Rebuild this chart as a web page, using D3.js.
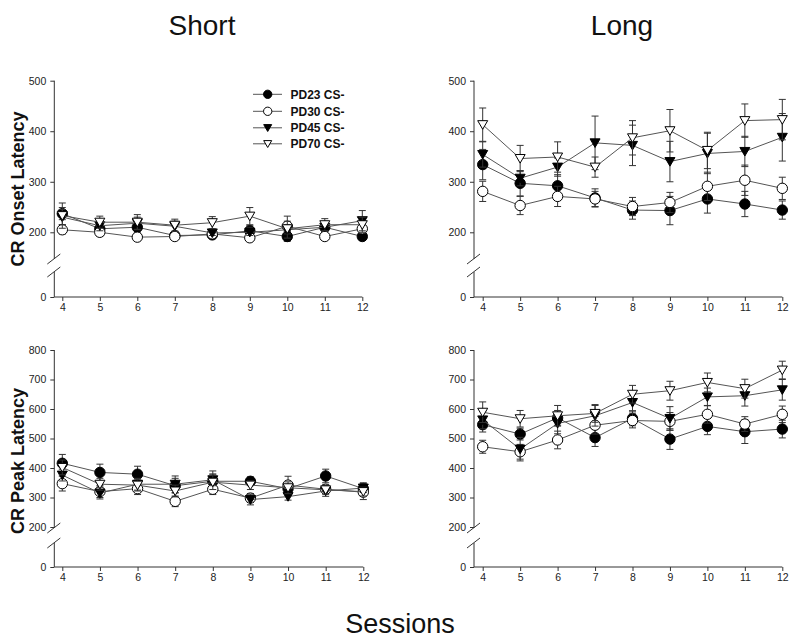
<!DOCTYPE html>
<html><head><meta charset="utf-8">
<script src="https://cdn.jsdelivr.net/npm/d3@7"></script>
<style>body{margin:0;background:#fff} svg{display:block;font-family:Arial,"Liberation Sans",sans-serif}</style>
</head><body><svg id="c" width="800" height="643"></svg>
<script>
// ---------- data ----------
const sessions = [4, 5, 6, 7, 8, 9, 10, 11, 12];
const seriesNames = ["PD23 CS-", "PD30 CS-", "PD45 CS-", "PD70 CS-"];
const panelTitles = ["Short", "Long"];
const rowTitles = ["CR Onset Latency", "CR Peak Latency"];
const xTitle = "Sessions";
const onsetTicks = [0, 200, 300, 400, 500];
const peakTicks = [0, 200, 300, 400, 500, 600, 700, 800];

// CR onset latency, short
const onsetShortPD23 = [237, 207, 210, 190, 192, 203, 187, 210, 187];
const onsetShortPD30 = [205, 200, 185, 187, 195, 183, 212, 187, 207];
const onsetShortPD45 = [230, 213, 218, 212, 198, 200, 205, 210, 223];
const onsetShortPD70 = [233, 220, 220, 214, 219, 232, 207, 215, 215];
const onsetShortErrPD23 = [12, 12, 12, 8, 8, 10, 15, 8, 10];
const onsetShortErrPD30 = [10, 12, 10, 8, 8, 8, 10, 8, 10];
const onsetShortErrPD45 = [15, 10, 12, 10, 8, 10, 10, 8, 20];
const onsetShortErrPD70 = [25, 12, 15, 12, 12, 17, 25, 12, 15];

// CR onset latency, long
const onsetLongPD23 = [334, 297, 292, 268, 244, 243, 266, 256, 244];
const onsetLongPD30 = [281, 253, 271, 266, 251, 259, 291, 303, 287];
const onsetLongPD45 = [354, 307, 329, 377, 372, 340, 356, 360, 388];
const onsetLongPD70 = [413, 346, 349, 329, 387, 401, 362, 421, 423];
const onsetLongErrPD23 = [30, 25, 22, 18, 18, 28, 28, 25, 18];
const onsetLongErrPD30 = [20, 18, 20, 15, 18, 20, 28, 30, 22];
const onsetLongErrPD45 = [25, 15, 18, 53, 40, 40, 40, 30, 47];
const onsetLongErrPD70 = [33, 26, 30, 20, 34, 42, 36, 33, 40];

// CR peak latency, short
const peakShortPD23 = [416, 385, 379, 340, 355, 355, 330, 373, 330];
const peakShortPD30 = [347, 320, 330, 287, 328, 298, 342, 328, 318];
const peakShortPD45 = [376, 315, 345, 345, 360, 293, 303, 322, 332];
const peakShortPD70 = [402, 345, 342, 322, 352, 342, 333, 326, 320];
const peakShortErrPD23 = [30, 28, 27, 25, 35, 15, 20, 23, 20];
const peakShortErrPD30 = [25, 20, 20, 18, 18, 15, 30, 15, 25];
const peakShortErrPD45 = [20, 20, 20, 28, 20, 18, 12, 18, 15];
const peakShortErrPD70 = [25, 20, 20, 20, 25, 15, 20, 15, 15];

// CR peak latency, long
const peakLongPD23 = [547, 515, 570, 503, 568, 498, 541, 523, 532];
const peakLongPD30 = [472, 455, 495, 545, 561, 558, 582, 549, 582];
const peakLongPD45 = [563, 464, 551, 577, 622, 568, 641, 645, 665];
const peakLongPD70 = [589, 567, 577, 585, 650, 662, 690, 669, 732];
const peakLongErrPD23 = [25, 20, 25, 30, 25, 35, 28, 40, 30];
const peakLongErrPD30 = [22, 25, 30, 30, 25, 30, 30, 25, 28];
const peakLongErrPD45 = [30, 40, 35, 35, 28, 40, 30, 35, 35];
const peakLongErrPD70 = [35, 28, 35, 30, 30, 32, 32, 32, 30];

// ---------- layout ----------
const svg = d3.select("#c");
const axisColor = "#333", lineColor = "#555", textColor = "#222";

const panels = [
  {ax: 54.3, xr: [62.3, 362.3], yDom: [0, 200, 500], yRange: [297, 232.3, 80.7], ticks: onsetTicks, b1: 259, b2: 272,
   series: [[onsetShortPD23, onsetShortErrPD23], [onsetShortPD30, onsetShortErrPD30], [onsetShortPD45, onsetShortErrPD45], [onsetShortPD70, onsetShortErrPD70]]},
  {ax: 474, xr: [482.7, 782.3], yDom: [0, 200, 500], yRange: [297, 232.3, 80.7], ticks: onsetTicks, b1: 259, b2: 272,
   series: [[onsetLongPD23, onsetLongErrPD23], [onsetLongPD30, onsetLongErrPD30], [onsetLongPD45, onsetLongErrPD45], [onsetLongPD70, onsetLongErrPD70]]},
  {ax: 54.3, xr: [62.3, 363.3], yDom: [0, 200, 800], yRange: [567, 527, 350], ticks: peakTicks, b1: 528, b2: 543,
   series: [[peakShortPD23, peakShortErrPD23], [peakShortPD30, peakShortErrPD30], [peakShortPD45, peakShortErrPD45], [peakShortPD70, peakShortErrPD70]]},
  {ax: 474, xr: [482.7, 782.3], yDom: [0, 200, 800], yRange: [567, 527, 350], ticks: peakTicks, b1: 528, b2: 543,
   series: [[peakLongPD23, peakLongErrPD23], [peakLongPD30, peakLongErrPD30], [peakLongPD45, peakLongErrPD45], [peakLongPD70, peakLongErrPD70]]}
];

const markerStyles = [
  {shape: "circle", fill: "#000"},
  {shape: "circle", fill: "#fff"},
  {shape: "tri", fill: "#000"},
  {shape: "tri", fill: "#fff"}
];

function drawMarker(g, x, y, st, s) {
  if (st.shape === "circle") {
    g.append("circle").attr("cx", x).attr("cy", y).attr("r", 5.2 * s)
      .attr("fill", st.fill).attr("stroke", "#000").attr("stroke-width", 1);
  } else {
    const w = 5 * s, t = 4 * s, b = 4.6 * s;
    g.append("path").attr("d", `M${-w},${-t}L${w},${-t}L0,${b}Z`).attr("transform", `translate(${x},${y})`)
      .attr("fill", st.fill).attr("stroke", "#000").attr("stroke-width", 1);
  }
}

panels.forEach(p => {
  const x = d3.scaleLinear().domain([4, 12]).range(p.xr);
  const y = d3.scaleLinear().domain(p.yDom).range(p.yRange);
  const yBase = p.yRange[0];
  const g = svg.append("g");

  // y axis
  const ya = g.append("g").attr("transform", `translate(${p.ax},0)`)
    .call(d3.axisLeft(y).tickValues(p.ticks).tickSize(4).tickPadding(4).tickFormat(d3.format("d")));
  ya.select(".domain").remove();
  ya.selectAll("line").attr("stroke", axisColor);
  ya.selectAll("text").attr("fill", textColor).style("font-size", "10.5px").style("font-family", "Arial,'Liberation Sans',sans-serif");
  g.append("line").attr("x1", p.ax).attr("x2", p.ax).attr("y1", y(p.yDom[2])).attr("y2", p.b1).attr("stroke", axisColor);
  g.append("line").attr("x1", p.ax).attr("x2", p.ax).attr("y1", p.b2).attr("y2", yBase).attr("stroke", axisColor);
  [p.b1, p.b2].forEach(b => {
    g.append("line").attr("x1", p.ax - 7).attr("y1", b + 5).attr("x2", p.ax + 6).attr("y2", b - 5)
      .attr("stroke", axisColor).attr("stroke-width", 1);
  });

  // x axis
  const xa = g.append("g").attr("transform", `translate(0,${yBase})`)
    .call(d3.axisBottom(x).tickValues(sessions).tickSize(4).tickPadding(3).tickFormat(d3.format("d")));
  xa.select(".domain").remove();
  xa.selectAll("line").attr("stroke", axisColor);
  xa.selectAll("text").attr("fill", textColor).style("font-size", "10.5px").style("font-family", "Arial,'Liberation Sans',sans-serif");
  g.append("line").attr("x1", p.ax).attr("x2", x(12)).attr("y1", yBase).attr("y2", yBase).attr("stroke", axisColor);

  // series
  const line = d3.line().x((d, i) => x(sessions[i])).y(d => y(d));
  p.series.forEach(([vals, errs], si) => {
    const sg = g.append("g");
    sg.append("path").datum(vals).attr("d", line).attr("fill", "none").attr("stroke", lineColor).attr("stroke-width", 1);
    vals.forEach((v, i) => {
      const cx = x(sessions[i]);
      const yt = y(v + errs[i]), yb = y(v - errs[i]);
      sg.append("line").attr("x1", cx).attr("x2", cx).attr("y1", yt).attr("y2", yb).attr("stroke", "#333");
      [yt, yb].forEach(yy => sg.append("line").attr("x1", cx - 3.5).attr("x2", cx + 3.5).attr("y1", yy).attr("y2", yy).attr("stroke", "#333"));
    });
    vals.forEach((v, i) => drawMarker(sg, x(sessions[i]), y(v), markerStyles[si], 1));
  });
});

// legend
const lg = svg.append("g");
const legendY = [94.3, 111.3, 127.8, 143.8];
seriesNames.forEach((name, i) => {
  const yy = legendY[i];
  lg.append("line").attr("x1", 253).attr("x2", 282).attr("y1", yy).attr("y2", yy).attr("stroke", lineColor);
  drawMarker(lg, 267.7, yy, markerStyles[i], 0.8);
  lg.append("text").attr("x", 290.5).attr("y", yy).attr("dy", "0.36em").attr("fill", "#111")
    .style("font-size", "12px").style("font-weight", "bold").text(name);
});

// titles
svg.append("text").attr("x", 202).attr("y", 35).attr("text-anchor", "middle").style("font-size", "28px").attr("fill", "#111").text(panelTitles[0]);
svg.append("text").attr("x", 622).attr("y", 35).attr("text-anchor", "middle").style("font-size", "28px").attr("fill", "#111").text(panelTitles[1]);
svg.append("text").attr("x", 400).attr("y", 633).attr("text-anchor", "middle").style("font-size", "27px").attr("fill", "#111").text(xTitle);
svg.append("text").attr("transform", "translate(24,189) rotate(-90)").attr("text-anchor", "middle")
  .style("font-size", "18px").style("font-weight", "bold").attr("fill", "#111").text(rowTitles[0]);
svg.append("text").attr("transform", "translate(24,461) rotate(-90)").attr("text-anchor", "middle")
  .style("font-size", "18px").style("font-weight", "bold").attr("fill", "#111").text(rowTitles[1]);
</script>
</body></html>
